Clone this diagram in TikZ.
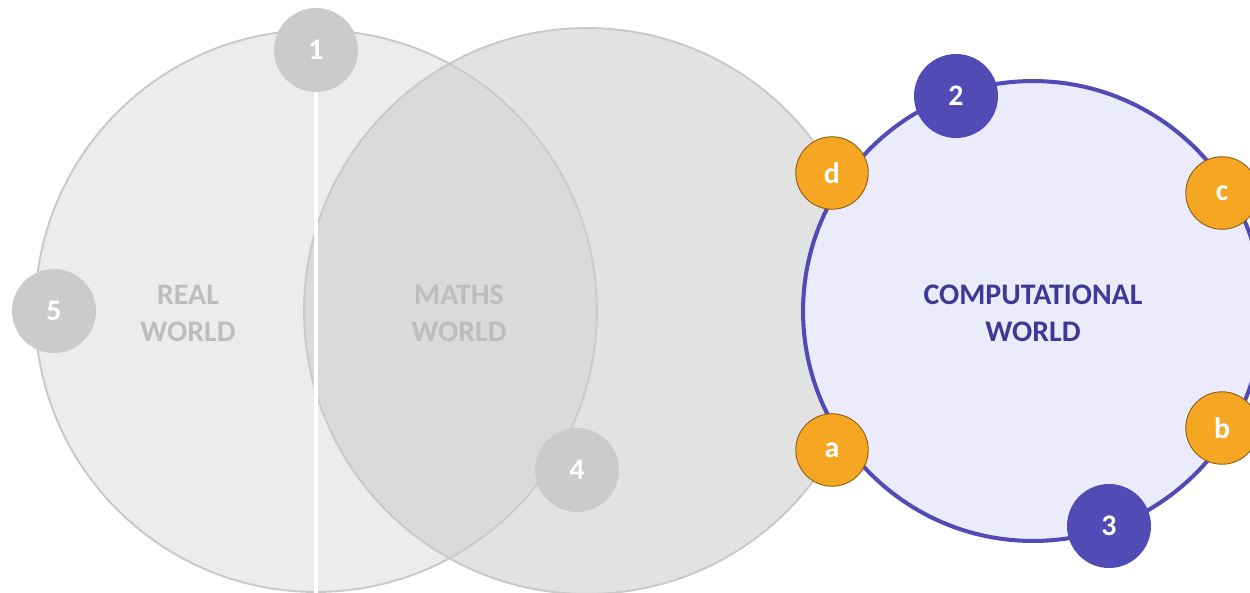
\documentclass[tikz,border=0pt]{standalone}
\usepackage{fontspec}
\setmainfont{Carlito}
\usetikzlibrary{positioning}

\definecolor{realfill}{HTML}{ECECEC}
\definecolor{worldedge}{HTML}{C9C9C9}
\definecolor{mathsfill}{HTML}{CDCDCD}
\definecolor{badgegray}{HTML}{CBCBCB}
\definecolor{compedge}{HTML}{534BB5}
\definecolor{compfill}{HTML}{ECEBFB}
\definecolor{stepfill}{HTML}{F5A623}
\definecolor{stepedge}{HTML}{8B5A12}
\definecolor{labelgray}{HTML}{BDBDBD}
\definecolor{comptext}{HTML}{3F3897}

\begin{document}
\begin{tikzpicture}[
        x=0.02cm, y=-0.02cm,
        font=\fontsize{17}{21}\selectfont\bfseries,
        world/.style={
            circle,
            draw=worldedge,
            line width=1.1pt,
            inner sep=0pt
        },
        worldlabel/.style={
            align=center,
            text=labelgray
        },
        badge/.style={
            circle,
            fill=badgegray,
            text=white,
            inner sep=0pt,
            minimum size=1.68cm
        },
        phase/.style={
            badge,
            fill=compedge
        },
        stepdot/.style={
            circle,
            draw=stepedge,
            line width=0.5pt,
            fill=stepfill,
            text=white,
            inner sep=0pt,
            minimum size=1.45cm
        }
    ]
        \useasboundingbox (0,0) rectangle (1250,592);

        \node[world, fill=realfill, minimum size=11.24cm] (real) at (316,311) {};
        \node[world, fill=mathsfill, fill opacity=0.58, minimum size=11.32cm] (maths) at (587,311) {};
        \node[circle, draw=compedge, line width=2.3pt, fill=compfill, inner sep=0pt, minimum size=9.2cm] (comp) at (1033,311) {};

        \node[worldlabel] (reallabel) at (188,313) {REAL\\WORLD};
        \node[worldlabel] (mathslabel) at (459,313) {MATHS\\WORLD};
        \node[align=center, text=comptext] (complabel) at (1033,313) {COMPUTATIONAL\\WORLD};

        \node[badge] (one) at (316,50) {1};
        \draw[white, line width=2.3pt] (one.south) -- (real.south);
        \node[badge] (four) at (577,470) {4};
        \node[badge] (five) at (54,311) {5};
        \node[phase] (two) at (956,96) {2};
        \node[phase] (three) at (1109,526) {3};

        \foreach \name/\pos in {a/{(832,450)},b/{(1222,428)},c/{(1222,193)},d/{(832,173)}} {
            \node[stepdot] (step\name) at \pos {\name};
        }
    \end{tikzpicture}
\end{document}
